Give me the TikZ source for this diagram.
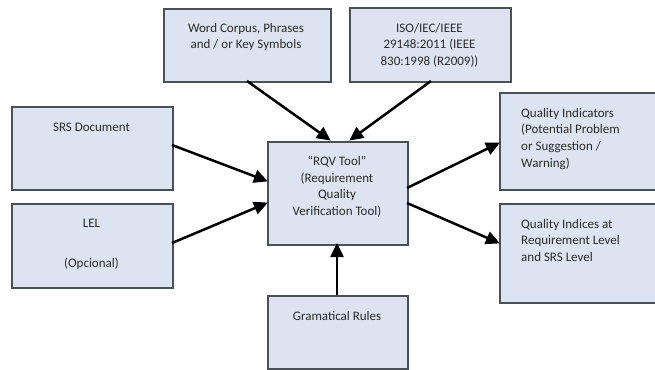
\documentclass[tikz,border=0pt]{standalone}
\usepackage{fontspec}
\setmainfont{Carlito}
\usetikzlibrary{arrows.meta}
\definecolor{boxfill}{HTML}{DBE4F0}
\definecolor{boxdraw}{HTML}{4A5058}
\definecolor{txt}{HTML}{2B2B2B}
\tikzset{
  blk/.style={draw=boxdraw, fill=boxfill, line width=1.6pt},
  lbl/.style={inner sep=0pt, text=txt, font=\fontsize{13}{16.7}\selectfont, align=center},
  lbll/.style={inner sep=0pt, text=txt, font=\fontsize{13}{16.7}\selectfont, align=left, anchor=north west},
  conn/.style={line width=2.5pt, -{Triangle[length=14pt,width=13pt]}, shorten >=-1pt}
}
\begin{document}
\begin{tikzpicture}[x=1pt,y=-1pt]
\useasboundingbox (0,0) rectangle (655,369);
\clip (0,0) rectangle (655,369);
% boxes
\node[blk, minimum width=167pt, minimum height=73pt, anchor=north west] (word) at (163,8) {};
\node[blk, minimum width=161pt, minimum height=74pt, anchor=north west] (iso) at (349,7) {};
\node[blk, minimum width=161pt, minimum height=83pt, anchor=north west] (srs) at (11,106) {};
\node[blk, minimum width=161pt, minimum height=84pt, anchor=north west] (lel) at (11,203) {};
\node[blk, minimum width=140pt, minimum height=103pt, anchor=north west] (rqv) at (267,141) {};
\node[blk, minimum width=140pt, minimum height=73pt, anchor=north west] (gram) at (267,295) {};
\node[blk, minimum width=165pt, minimum height=97pt, anchor=north west] (qind) at (499,92) {};
\node[blk, minimum width=165pt, minimum height=99pt, anchor=north west] (qidx) at (499,203) {};
% texts
\node[lbl, anchor=north] (wordt) at (246,23) {Word Corpus, Phrases\\and / or Key Symbols};
\node[lbl, anchor=north] (isot) at (429.5,23) {ISO/IEC/IEEE\\29148:2011 (IEEE\\830:1998 (R2009))};
\node[lbl, anchor=north] (srst) at (91.5,123) {SRS Document};
\node[lbl, anchor=north] (lelt) at (91.5,219) {LEL};
\node[lbl, anchor=north] (opct) at (91.5,258) {(Opcional)};
\node[lbl, anchor=north] (rqvt) at (337,156) {``RQV Tool''\\(Requirement\\Quality\\Verification Tool)};
\node[lbl, anchor=north] (gramt) at (337,311) {Gramatical Rules};
\node[lbll] (qindt) at (521,108) {Quality Indicators\\(Potential Problem\\or Suggestion /\\Warning)};
\node[lbll] (qidxt) at (521,219) {Quality Indices at\\Requirement Level\\and SRS Level};
% anchors for connectors
\coordinate (w1) at (247,81);
\coordinate (w2) at (330,140);
\coordinate (i1) at (431,81);
\coordinate (i2) at (350,140);
\coordinate (s1) at (172,145);
\coordinate (s2) at (267,181);
\coordinate (l1) at (172,243);
\coordinate (l2) at (267,203);
\coordinate (q1) at (407,188);
\coordinate (q2) at (499,143);
\coordinate (x1) at (407,203);
\coordinate (x2) at (499,243);
\coordinate (g1) at (337,295);
\coordinate (g2) at (337,244);
\draw[conn] (w1) -- (w2);
\draw[conn] (i1) -- (i2);
\draw[conn] (s1) -- (s2);
\draw[conn] (l1) -- (l2);
\draw[conn] (q1) -- (q2);
\draw[conn] (x1) -- (x2);
\draw[conn] (g1) -- (g2);
\end{tikzpicture}
\end{document}
